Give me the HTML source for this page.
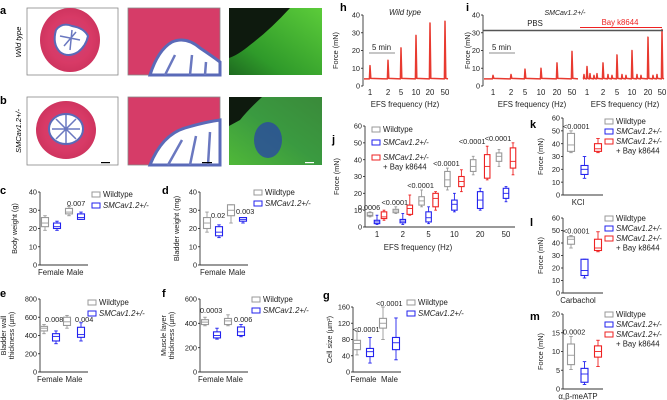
<!DOCTYPE html>
<html><head><meta charset="utf-8"><style>
html,body{margin:0;padding:0;background:#fff}
svg{display:block;font-family:"Liberation Sans",sans-serif}
</style></head><body>
<svg id="fig" width="667" height="400" viewBox="0 0 667 400" xmlns="http://www.w3.org/2000/svg">
<defs>
<radialGradient id="pink" cx="50%" cy="50%" r="60%"><stop offset="0" stop-color="#c8447e"/><stop offset="0.6" stop-color="#d83a66"/><stop offset="1" stop-color="#c8305a"/></radialGradient>
<linearGradient id="grn" x1="1" y1="0" x2="0" y2="1"><stop offset="0" stop-color="#5ccc3a"/><stop offset="0.7" stop-color="#2f9a2a"/><stop offset="1" stop-color="#1e6a20"/></linearGradient>
<linearGradient id="grn2" x1="1" y1="0" x2="0" y2="1"><stop offset="0" stop-color="#3a8a3a"/><stop offset="0.5" stop-color="#3a9a40"/><stop offset="1" stop-color="#50b838"/></linearGradient>
</defs>
<g id="images">
 <text x="0" y="14" font-size="11" font-weight="bold">a</text>
 <text x="0" y="104" font-size="11" font-weight="bold">b</text>
 <text transform="translate(21,42) rotate(-90)" text-anchor="middle" font-size="7.5" font-style="italic">Wild type</text>
 <text transform="translate(21,131) rotate(-90)" text-anchor="middle" font-size="7.5" font-style="italic">SMCav1.2+/-</text>
 <g>
  <rect x="27" y="8" width="91" height="67" fill="#fff" stroke="#888" stroke-width="0.8"/>
  <ellipse cx="70" cy="40" rx="30" ry="32" fill="url(#pink)"/>
  <path d="M56,30 Q62,22 72,26 Q84,28 88,36 Q86,46 78,52 Q68,58 60,52 Q52,44 56,30Z" fill="#fff" stroke="#5a6ab8" stroke-width="2"/>
  <path d="M60,36 L80,40 M64,46 L76,32 M70,50 L72,30" stroke="#6a78c0" stroke-width="1.5"/>
 </g>
 <g>
  <rect x="128" y="8" width="92" height="67" fill="#d63c68" stroke="#888" stroke-width="0.8"/>
  <path d="M150,75 Q158,50 172,42 Q186,36 200,48 Q212,56 220,62 L220,75Z" fill="#fff" stroke="#5a6ab8" stroke-width="3"/>
  <path d="M165,75 L175,55 M190,75 L192,55 M205,75 L206,62" stroke="#6a78c0" stroke-width="2.5"/>
 </g>
 <g>
  <rect x="229" y="8" width="93" height="67" fill="url(#grn)"/>
  <path d="M229,8 L290,8 Q270,30 250,45 Q238,55 229,58Z" fill="#0e1a0e"/>
 </g>
 <g>
  <rect x="27" y="97" width="91" height="68" fill="#fff" stroke="#888" stroke-width="0.8"/>
  <ellipse cx="66" cy="130" rx="30" ry="29" fill="url(#pink)"/>
  <ellipse cx="66" cy="129" rx="17" ry="15" fill="#fff" stroke="#5a6ab8" stroke-width="2"/>
  <path d="M52,129 L80,129 M66,115 L66,143 M56,119 L76,139 M76,119 L56,139" stroke="#6a78c0" stroke-width="1.5"/>
  <rect x="101" y="162" width="9" height="1.2" fill="#000"/>
 </g>
 <g>
  <rect x="128" y="97" width="92" height="68" fill="#d63c68" stroke="#888" stroke-width="0.8"/>
  <path d="M150,165 Q162,135 185,128 Q205,122 220,120 L220,165Z" fill="#fff" stroke="#5a6ab8" stroke-width="3"/>
  <path d="M168,165 L182,140 M190,165 L196,136 M208,165 L210,132" stroke="#6a78c0" stroke-width="2.5"/>
  <rect x="202" y="162" width="10" height="1.2" fill="#000"/>
 </g>
 <g>
  <rect x="229" y="97" width="93" height="68" fill="url(#grn2)"/>
  <path d="M229,97 L262,97 Q248,110 240,120 L229,126Z" fill="#0e1a0e"/>
  <ellipse cx="268" cy="140" rx="14" ry="18" fill="#2a4aa0" opacity="0.8"/>
  <rect x="305" y="162" width="9" height="1.2" fill="#fff"/>
 </g>
</g>
<g id="charts"></g>
</svg>
<script>
// ---------- data ----------
const groupsCDEFG = ["Female","Male"];
const cWT = [[19,21,23,26,27],[27,28,29,31,32]];
const cSM = [[19,20,21,23,24],[25,25,26,28,29]];
const dWT = [[18,20,23,26,29],[23,27,30,33,33]];
const dSM = [[15,16,18,21,22],[23,24,25,26,26]];
const eWT = [[420,450,480,500,520],[480,510,550,600,620]];
const eSM = [[310,340,390,420,450],[340,380,410,490,540]];
const fWT = [[380,390,410,430,450],[380,390,420,440,470]];
const fSM = [[270,280,300,330,360],[290,300,330,370,390]];
const gWT = [[42,55,70,78,100],[80,108,120,132,160]];
const gSM = [[22,38,50,58,85],[30,55,72,85,133]];
const jFreq = ["1","2","5","10","20","50"];
const jWT = [[6,6.5,7,8.5,9],[8,8.5,9.5,10.5,12],[12,13,15.5,18,22],[22,24,28,33,35],[31,33,36,40,42],[36,39,42,44,46]];
const jSM = [[1.5,2,3,4,7],[1.5,2.5,3.5,4.5,8],[2,3,5.5,9,12],[9,10,13.5,16,20],[10,11,16,21,23],[15,17,20,23,24]];
const jBay = [[4,5,6,9,10],[7,7.5,11,13,19],[10,12,17,20,21],[21,24,27,30,34],[28,29,36,43,48],[31,35,39,47,50]];
const jP = ["0.0006","<0.0001","<0.0001","<0.0001","<0.0001","<0.0001"];
const kData = [[33,34,39,48,50],[13,16,20,23,30],[33,34,36,40,44]];
const lData = [[36,39,43,45,46],[12,14,18,27,27],[33,34,36,43,49]];
const mData = [[5.2,6.5,9,12,14],[1.2,1.8,4,5.5,7.3],[6,8.5,10,11.5,13]];
const hPeaks = [11.5,14.5,21.5,28.5,35.5,36.5];
const iPbsPeaks = [6,6.5,9.5,10,13,19.5];
const iBayPeaks = [11,13,17.5,20,27.5,31.8];
const traceBaseline = 4;

const NS="http://www.w3.org/2000/svg";
const root=document.getElementById('charts');
function el(tag,attrs,parent,txt){const e=document.createElementNS(NS,tag);for(const k in attrs)e.setAttribute(k,attrs[k]);if(txt!==undefined)e.textContent=txt;(parent||root).appendChild(e);return e;}
const GRAY="#999",BLUE="#2222ee",RED="#ee2222";
const FS=7.8;

function panel(name){const g=el('g',{});return g;}
function yAxis(g,x,yTop,yBot,vmax,ticks,title,tx){
  const sc=v=>yBot-(v/vmax)*(yBot-yTop);
  const a=el('line',{x1:x,y1:sc(ticks[ticks.length-1]),x2:x,y2:yBot,stroke:"#333","stroke-width":0.9},g);
  
  ticks.forEach(t=>{el('line',{x1:x-2,y1:sc(t),x2:x,y2:sc(t),stroke:"#333","stroke-width":0.9},g);
    const l=el('text',{x:x-3,y:sc(t)+2.6,"font-size":7.3,"text-anchor":"end",fill:"#222"},g,String(t));
    });
  if(title){const tt=el('text',{transform:`translate(${tx},${(yTop+yBot)/2}) rotate(-90)`,"font-size":7.3,"text-anchor":"middle",fill:"#222"},g);
    title.split('\n').forEach((s,i)=>{el('tspan',{x:0,dy:i?8:0},tt,s);});
    }
  return sc;
}
function xAxis(g,x1,x2,y){const a=el('line',{x1,y1:y,x2,y2:y,stroke:"#333","stroke-width":0.9},g);}
function box(g,cx,w,d,sc,col,name){
  const b=el('g',{},g);
  const [mn,q1,md,q3,mx]=d;
  el('line',{x1:cx,y1:sc(mx),x2:cx,y2:sc(q3),stroke:col,"stroke-width":0.9},b);
  el('line',{x1:cx,y1:sc(q1),x2:cx,y2:sc(mn),stroke:col,"stroke-width":0.9},b);
  el('line',{x1:cx-w/4,y1:sc(mx),x2:cx+w/4,y2:sc(mx),stroke:col,"stroke-width":0.9},b);
  el('line',{x1:cx-w/4,y1:sc(mn),x2:cx+w/4,y2:sc(mn),stroke:col,"stroke-width":0.9},b);
  el('rect',{x:cx-w/2,y:sc(q3),width:w,height:sc(q1)-sc(q3),fill:"none",stroke:col,"stroke-width":1.1},b);
  el('line',{x1:cx-w/2,y1:sc(md),x2:cx+w/2,y2:sc(md),stroke:col,"stroke-width":0.9},b);
}
function legend(g,x,y,items,gap){
  items.forEach((it,i)=>{const lg=el('g',{},g);
    const yy=y+i*(gap||11)+(it.off||0);
    el('rect',{x:x,y:yy-5,width:8,height:5,fill:"none",stroke:it.c,"stroke-width":1},lg);
    el('text',{x:x+11,y:yy,"font-size":FS,fill:"#222","font-style":it.i?"italic":"normal"},lg,it.t);
    if(it.t2) el('text',{x:x+11,y:yy+9.5,"font-size":FS,fill:"#222"},lg,it.t2);});
}
function txt(g,x,y,s,o){return el('text',Object.assign({x,y,"font-size":7.3,fill:"#222"},o||{}),g,s);}
const L2=[{c:GRAY,t:"Wildtype"},{c:BLUE,t:"SMCav1.2+/-",i:1}];

function twoGroup(name,label,lx,ly,ax,yTop,yBot,vmax,ticks,title,tx,wt,sm,xs,bw,pvals,pxy,legx,legy){
  const g=panel(name);
  const pl=el('text',{x:lx,y:ly,"font-size":11,"font-weight":"bold"},g,label);
  const sc=yAxis(g,ax,yTop,yBot,vmax,ticks,title,tx);
  xAxis(g,ax,ax+48,yBot);
  groupsCDEFG.forEach((gr,i)=>{
    box(g,xs[i*2],bw,wt[i],sc,GRAY,'box-wildtype-'+gr.toLowerCase());
    box(g,xs[i*2+1],bw,sm[i],sc,BLUE,'box-smcav-'+gr.toLowerCase());
    const t=txt(g,(xs[i*2]+xs[i*2+1])/2,yBot+10,gr,{"text-anchor":"middle","font-size":FS});
    
  });
  pvals.forEach((p,i)=>{const t=txt(g,pxy[i][0],pxy[i][1],p);});
  legend(g,legx,legy,L2);
}
twoGroup('panel-c-body-weight','c',0,194,40,192,265,40,[0,10,20,30,40],"Body weight (g)",17,cWT,cSM,[45,57,69,81],7,["0.007"],[[67,206]],92,197);
twoGroup('panel-d-bladder-weight','d',162,194,200,192,265,40,[0,10,20,30,40],"Bladder weight (mg)",179,dWT,dSM,[207,219,231,243],7,["0.02","0.003"],[[211,218],[236,214]],254,195);
twoGroup('panel-e-wall-thickness','e',0,297,40,299,372,800,[0,200,400,600,800],"Bladder wall\nthickness (µm)",6,eWT,eSM,[44,56,67,81],7,["0.008","0.004"],[[45,322],[75,322]],88,305);
twoGroup('panel-f-muscle-thickness','f',162,297,200,299,372,600,[0,200,400,600],"Muscle layer\nthickness (µm)",166,fWT,fSM,[205,217,228,241],7,["0.0003","0.006"],[[200,313],[234,322]],252,302);
twoGroup('panel-g-cell-size','g',323,299,353,307,372,160,[0,40,80,120,160],"Cell size (µm²)",332,gWT,gSM,[357,370,383,396],7,["<0.0001","<0.0001"],[[353,332],[376,306]],407,305);

// ---------- traces h, i ----------
function trace(g,x0,x1,tickX,peaks,sc,extra){
  let d=`M${x0},${sc(traceBaseline)}`;
  const pts=[];
  tickX.forEach((tx,i)=>pts.push([tx,peaks[i],0.8]));
  (extra||[]).forEach(e=>pts.push(e));
  pts.sort((a,b)=>a[0]-b[0]);
  pts.forEach(p=>{d+=` L${p[0]-0.6},${sc(traceBaseline)} L${p[0]},${sc(p[1])} L${p[0]+p[2]},${sc(traceBaseline+0.3)}`;});
  d+=` L${x1},${sc(traceBaseline)}`;
  const p=el('path',{d,fill:"none",stroke:"#e83a30","stroke-width":1.5,"stroke-linejoin":"round"},g);
  
}
function freqTicks(g,xs,y){xs.forEach((x,i)=>{const t=txt(g,x,y,jFreq[i],{"text-anchor":"middle","font-size":FS});});}
{
  const g=panel('panel-h-wildtype-trace');
  el('text',{x:340,y:11,"font-size":11,"font-weight":"bold"},g,"h");
  txt(g,405,15,"Wild type",{"text-anchor":"middle","font-style":"italic","font-size":FS});
  const sc=yAxis(g,363,15,86,40,[0,10,20,30,40],"Force (mN)",338);
  const hx=[370,388,401,416,430,445];
  trace(g,364,448,hx,hPeaks,sc);
  freqTicks(g,hx,95);
  txt(g,405,101+6,"EFS frequency (Hz)",{"text-anchor":"middle","font-size":FS});
  el('line',{x1:369,y1:53,x2:395,y2:53,stroke:"#666","stroke-width":0.8},g);
  txt(g,372,50,"5 min",{"font-size":FS});
}
{
  const g=panel('panel-i-smcav-trace');
  el('text',{x:466,y:11,"font-size":11,"font-weight":"bold"},g,"i");
  txt(g,565,15,"SMCav1.2+/-",{"text-anchor":"middle","font-style":"italic","font-size":7});
  const sc=yAxis(g,483,15,86,40,[0,10,20,30,40],"Force (mN)",470);
  const ix1=[493,511,525,541,557,572], ix2=[587,603,617,632,648,662];
  trace(g,484,578,ix1,iPbsPeaks,sc);
  const noise=[[584,6.5,0.5],[590,7,0.5],[594,6,0.5],[597,7,0.5],[608,6.5,0.5],[612,6,0.5],[622,6.5,0.5],[626,6,0.5],[637,6.5,0.5],[641,6,0.5],[653,6,0.5],[657,6.5,0.5]];
  trace(g,583,664,ix2,iBayPeaks,sc,noise);
  freqTicks(g,ix1,95);freqTicks(g,ix2,95);
  txt(g,532,107,"EFS frequency (Hz)",{"text-anchor":"middle","font-size":FS});
  txt(g,625,107,"EFS frequency (Hz)",{"text-anchor":"middle","font-size":FS});
  const pb=el('line',{x1:483,y1:30.5,x2:663,y2:30.5,stroke:"#555","stroke-width":1.4},g);
  const bb=el('line',{x1:580,y1:27.5,x2:662,y2:27.5,stroke:RED,"stroke-width":0.9},g);
  txt(g,535,26,"PBS",{"text-anchor":"middle","font-size":FS});
  txt(g,620,25,"Bay k8644",{"text-anchor":"middle","font-size":FS,fill:RED});
  el('line',{x1:489,y1:53,x2:515,y2:53,stroke:"#666","stroke-width":0.8},g);
  txt(g,492,50,"5 min",{"font-size":FS});
}
// ---------- j ----------
{
  const g=panel('panel-j-efs-force');
  el('text',{x:332,y:143,"font-size":11,"font-weight":"bold"},g,"j");
  const sc=yAxis(g,365,126,227,60,[0,10,20,30,40,50,60],"Force (mN)",339);
  xAxis(g,365,515,227);
  const xc=f=>377+f*25.8;
  jFreq.forEach((f,i)=>{
    box(g,xc(i)-7,5.5,jWT[i],sc,GRAY,'box-wildtype-'+f+'hz');
    box(g,xc(i),5.5,jSM[i],sc,BLUE,'box-smcav-'+f+'hz');
    box(g,xc(i)+7,5.5,jBay[i],sc,RED,'box-bay-'+f+'hz');
    const top=Math.max(jWT[i][4],jBay[i][4]);
    const t=txt(g,xc(i)-8,sc(i<2?jWT[i][4]:top)-2,jP[i],{"text-anchor":"middle"});
    
  });
  freqTicks(g,jFreq.map((f,i)=>xc(i)),237);
  txt(g,418,250,"EFS frequency (Hz)",{"text-anchor":"middle","font-size":FS});
  legend(g,372,132,[{c:GRAY,t:"Wildtype"},{c:BLUE,t:"SMCav1.2+/-",i:1,off:1},{c:RED,t:"SMCav1.2+/-",i:1,t2:"+ Bay k8644",off:4}],12);
}
// ---------- k l m ----------
function threeGroup(name,label,ly,yTop,yBot,vmax,ticks,data,p,xl,legy){
  const g=panel(name);
  el('text',{x:530,y:ly,"font-size":11,"font-weight":"bold"},g,label);
  const sc=yAxis(g,563,yTop,yBot,vmax,ticks,"Force (mN)",543);
  xAxis(g,563,603,yBot);
  const cols=[GRAY,BLUE,RED],nm=['wildtype','smcav','bay'];
  data.forEach((d,i)=>box(g,571+i*13.5,7,d,sc,cols[i],'box-'+nm[i]));
  const t=txt(g,563,sc(data[0][4])-2,p);
  const xt=txt(g,578,yBot+10,xl,{"text-anchor":"middle","font-size":FS});
  legend(g,605,legy,[{c:GRAY,t:"Wildtype"},{c:BLUE,t:"SMCav1.2+/-",i:1},{c:RED,t:"SMCav1.2+/-",i:1,t2:"+ Bay k8644"}],10);
}
threeGroup('panel-k-kcl','k',128,118,195,60,[0,10,20,30,40,50,60],kData,"<0.0001","KCl",124);
threeGroup('panel-l-carbachol','l',226,218,293,60,[0,10,20,30,40,50,60],lData,"<0.0001","Carbachol",221);
threeGroup('panel-m-abmeatp','m',320,314,389,20,[0,5,10,15,20],mData,"0.0002","α,β-meATP",317);
</script>
</body></html>
